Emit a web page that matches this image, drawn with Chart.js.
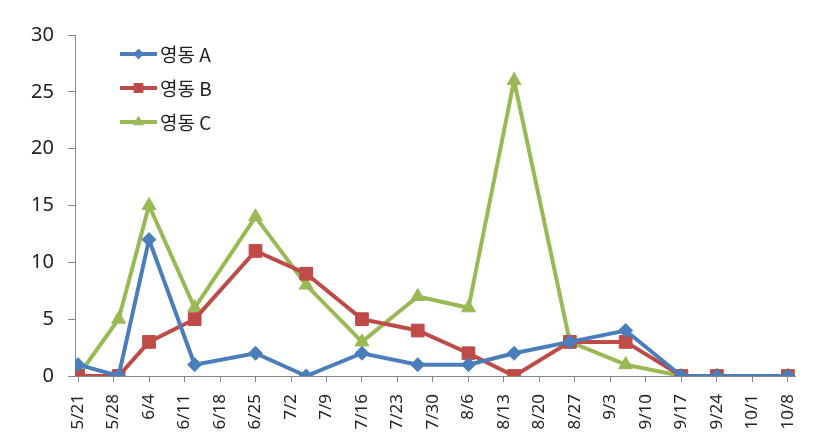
<!DOCTYPE html>
<html>
<head>
<meta charset="utf-8">
<script src="https://cdn.jsdelivr.net/npm/chart.js@4"></script>
<style>
  html, body { margin: 0; padding: 0; background: #fff; }
  #wrap { width: 831px; height: 444px; }
</style>
</head>
<body>
<div id="wrap"><canvas id="canvas"></canvas></div>
<script>
// survey dates (month/day) and counts per site
const dates = ['5/21', '5/29', '6/4', '6/13', '6/25', '7/5', '7/16', '7/27', '8/6', '8/15', '8/26', '9/6', '9/17', '9/24', '10/8'];
const seriesNames = ['영동 A', '영동 B', '영동 C'];
const valuesA = [1, 0, 12, 1, 2, 0, 2, 1, 1, 2, 3, 4, 0, 0, 0];
const valuesB = [0, 0, 3, 5, 11, 9, 5, 4, 2, 0, 3, 3, 0, 0, 0];
const valuesC = [0, 5, 15, 6, 14, 8, 3, 7, 6, 26, 3, 1, 0, 0, 0];
const yTicks = [0, 5, 10, 15, 20, 25, 30];

const DAY = 86400000;
const base = Date.UTC(2013, 4, 21);
function toDay(s) {
    let p = s.split('/');
    return Math.round((Date.UTC(2013, +p[0] - 1, +p[1]) - base) / DAY);
}
function toLabel(d) {
    let dt = new Date(base + d * DAY);
    return (dt.getUTCMonth() + 1) + '/' + dt.getUTCDate();
}
function pts(vals) {
    return vals.map((v, i) => ({x: toDay(dates[i]), y: v}));
}

const axisGray = '#868686';

// legend drawn inside the plot, line + marker like the spreadsheet
const innerLegend = {
    id: 'innerLegend',
    afterDraw(chart) {
        let ctx = chart.ctx;
        let area = chart.chartArea;
        chart.data.datasets.forEach((ds, i) => {
            let y = area.top + 19 + i * 34;
            let x0 = area.left + 45;
            ctx.save();
            ctx.strokeStyle = ds.borderColor;
            ctx.lineWidth = ds.borderWidth;
            ctx.beginPath();
            ctx.moveTo(x0, y);
            ctx.lineTo(x0 + 37, y);
            ctx.stroke();
            ctx.fillStyle = ds.backgroundColor;
            ctx.strokeStyle = ds.borderColor;
            ctx.lineWidth = 1;
            Chart.helpers.drawPoint(ctx, {pointStyle: ds.pointStyle, radius: ds.pointRadius * 0.7, rotation: 0, borderWidth: 1}, x0 + 18.5, y);
            ctx.fillStyle = '#222';
            ctx.font = '19px "Noto Sans CJK KR", sans-serif';
            ctx.textBaseline = 'middle';
            ctx.fillText(ds.label, x0 + 40, y + 1);
            ctx.restore();
        });
    }
};

let ctx = document.getElementById('canvas').getContext('2d');
window.myLine = new Chart(ctx, {
    type: 'line',
    data: {
        datasets: [{
            label: seriesNames[0],
            data: pts(valuesA),
            borderColor: '#4A7EBB',
            backgroundColor: '#4A7EBB',
            borderWidth: 4,
            pointStyle: 'rectRot',
            pointRadius: 7,
            pointBorderWidth: 1
        }, {
            label: seriesNames[1],
            data: pts(valuesB),
            borderColor: '#BE4B48',
            backgroundColor: '#BE4B48',
            borderWidth: 4,
            pointStyle: 'rect',
            pointRadius: 9,
            pointBorderWidth: 1
        }, {
            label: seriesNames[2],
            data: pts(valuesC),
            borderColor: '#98B954',
            backgroundColor: '#98B954',
            borderWidth: 4,
            pointStyle: 'triangle',
            pointRadius: 8,
            pointBorderWidth: 1
        }]
    },
    options: {
        responsive: true,
        maintainAspectRatio: false,
        animation: false,
        layout: {padding: {top: 35, right: 36, left: 0, bottom: 0}},
        plugins: {
            legend: {display: false},
            tooltip: {enabled: false}
        },
        scales: {
            x: {
                type: 'linear',
                min: -0.6,
                max: 141.4,
                afterFit(scale) { scale.height = 68; },
                grid: {display: true, drawOnChartArea: false, drawTicks: true, tickLength: 6, color: axisGray},
                border: {display: true, color: axisGray, width: 1},
                ticks: {
                    stepSize: 7,
                    includeBounds: false,
                    minRotation: 90,
                    maxRotation: 90,
                    padding: 12,
                    color: '#222',
                    font: {family: 'Noto Sans, sans-serif', size: 17},
                    callback: (v) => toLabel(v)
                }
            },
            y: {
                min: yTicks[0],
                max: yTicks[yTicks.length - 1],
                afterFit(scale) { scale.width = 75; },
                grid: {display: true, drawOnChartArea: false, drawTicks: true, tickLength: 7, color: axisGray},
                border: {display: true, color: axisGray, width: 1},
                afterBuildTicks(scale) { scale.ticks = yTicks.map(v => ({value: v})); },
                ticks: {
                    padding: 14,
                    color: '#222',
                    font: {family: 'Noto Sans, sans-serif', size: 20}
                }
            }
        }
    },
    plugins: [innerLegend]
});
</script>
</body>
</html>
